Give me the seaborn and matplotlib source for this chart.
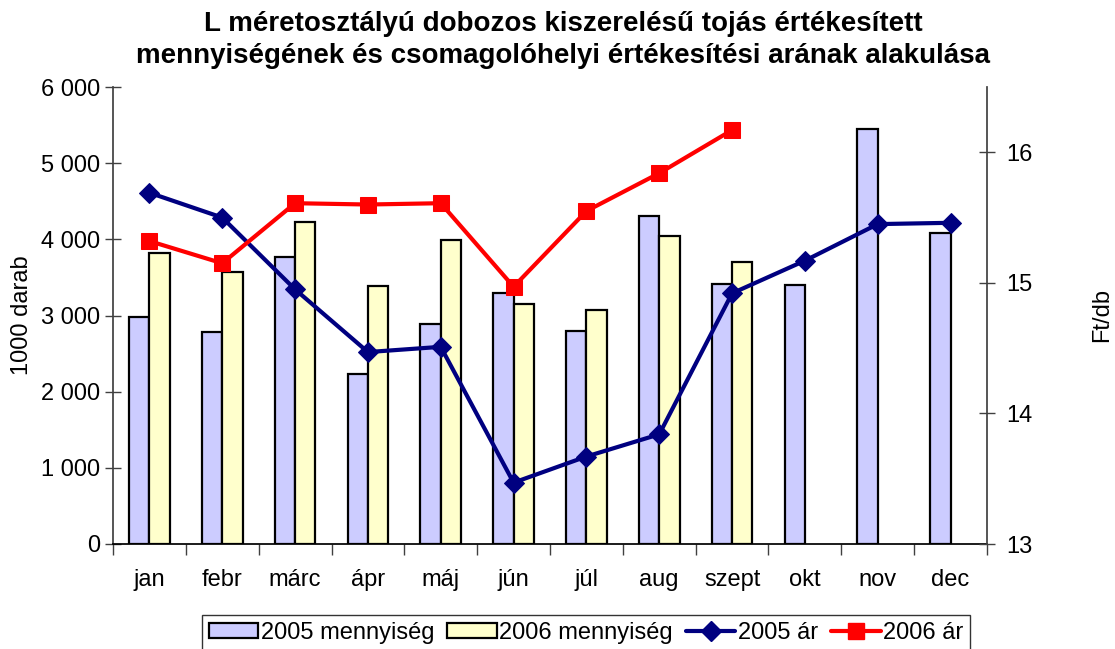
import numpy as np
import pandas as pd
import matplotlib
matplotlib.use("Agg")
import matplotlib.pyplot as plt
import seaborn as sns
from matplotlib.patches import Patch
from matplotlib.lines import Line2D
from matplotlib.ticker import FuncFormatter

months = ["jan", "febr", "márc", "ápr", "máj", "jún", "júl", "aug", "szept", "okt", "nov", "dec"]
qty_2005 = [2975, 2780, 3763, 2229, 2886, 3294, 2790, 4310, 3412, 3403, 5453, 4078]
qty_2006 = [3815, 3570, 4227, 3381, 3990, 3145, 3071, 4039, 3701, np.nan, np.nan, np.nan]
price_2005 = [15.69, 15.50, 14.95, 14.47, 14.51, 13.47, 13.67, 13.84, 14.92, 15.17, 15.45, 15.46]
price_2006 = [15.32, 15.15, 15.61, 15.60, 15.61, 14.97, 15.55, 15.84, 16.17, np.nan, np.nan, np.nan]

lbl_q05 = "2005 mennyiség"
lbl_q06 = "2006 mennyiség"
lbl_p05 = "2005 ár"
lbl_p06 = "2006 ár"

sns.set_theme(style="white")
plt.rcParams['font.family'] = ['Liberation Sans', 'DejaVu Sans']
plt.rcParams['text.color'] = 'black'
plt.rcParams['axes.labelcolor'] = 'black'
plt.rcParams['xtick.color'] = 'black'
plt.rcParams['ytick.color'] = 'black'

df = pd.DataFrame({
    "hónap": months * 2,
    "érték": qty_2005 + qty_2006,
    "sorozat": [lbl_q05] * 12 + [lbl_q06] * 12,
})

FS = 17

fig = plt.figure(figsize=(11.15, 6.49), dpi=100)
ax = fig.add_axes([113 / 1115, 105 / 649, (987 - 113) / 1115, (544 - 87) / 649])

c05 = "#CCCCFF"
c06 = "#FFFFCC"
sns.barplot(data=df, x="hónap", y="érték", hue="sorozat", order=months,
            hue_order=[lbl_q05, lbl_q06], palette=[c05, c06],
            width=0.56, edgecolor="black", linewidth=1.6, ax=ax, legend=False,
            saturation=1)

ax.set_ylim(0, 6000)
ax.set_xlim(-0.5, 11.5)
ax.set_yticks(np.arange(0, 6001, 1000))
ax.yaxis.set_major_formatter(FuncFormatter(lambda v, p: f"{int(v):,}".replace(",", " ")))
ax.set_xlabel("")
ax.set_ylabel("1000 darab", fontsize=FS, labelpad=6)
ax.tick_params(axis="y", labelsize=FS, direction="inout", length=12, width=1, color="#404040",
               labelcolor="black", left=True, pad=3)
ax.set_xticks(range(12))
ax.set_xticklabels(months)
ax.tick_params(axis="x", which="major", labelsize=FS, length=0, pad=18, labelcolor="black")
ax.set_xticks(np.arange(-0.5, 12, 1), minor=True)
ax.tick_params(axis="x", which="minor", direction="out", length=8, width=1, color="#404040", bottom=True)
ax.spines["top"].set_visible(False)
ax.spines["left"].set_color("#404040")
ax.spines["bottom"].set_color("black")
ax.spines["right"].set_visible(False)

ax2 = ax.twinx()
x_idx = np.arange(12)
sns.lineplot(x=x_idx, y=price_2005, ax=ax2, color="#000080", linewidth=3,
             marker="D", markersize=10, markeredgecolor="#000080", sort=False)
sns.lineplot(x=x_idx, y=price_2006, ax=ax2, color="#FF0000", linewidth=3,
             marker="s", markersize=12, markeredgecolor="#FF0000", sort=False)
ax2.set_ylim(13, 16.5)
ax2.set_yticks([13, 14, 15, 16])
ax2.set_xlim(-0.5, 11.5)
ax2.set_ylabel("Ft/db", fontsize=FS, labelpad=42)
ax2.tick_params(axis="y", labelsize=FS, direction="inout", length=12, width=1, color="#404040",
                labelcolor="black", right=True, pad=8)
ax2.spines["top"].set_visible(False)
ax2.spines["left"].set_visible(False)
ax2.spines["bottom"].set_visible(False)
ax2.spines["right"].set_color("#404040")

fig.text(0.505, 1 - 40 / 649,
         "L méretosztályú dobozos kiszerelésű tojás értékesített\n"
         "mennyiségének és csomagolóhelyi értékesítési arának alakulása",
         fontsize=20, fontweight="bold", ha="center", va="center", linespacing=1.3, color="black")

handles = [
    Patch(facecolor=c05, edgecolor="black", linewidth=1.6, label=lbl_q05),
    Patch(facecolor=c06, edgecolor="black", linewidth=1.6, label=lbl_q06),
    Line2D([0], [0], color="#000080", lw=3, marker="D", markersize=10, label=lbl_p05),
    Line2D([0], [0], color="#FF0000", lw=3, marker="s", markersize=12, label=lbl_p06),
]
leg = fig.legend(handles=handles, loc="upper center", bbox_to_anchor=(586 / 1115, 1 - 615 / 649),
                 ncol=4, fontsize=FS, frameon=True, fancybox=False, handlelength=2.1,
                 handleheight=0.6, handletextpad=0.1, columnspacing=0.55, borderpad=0.3,
                 borderaxespad=0)
leg.get_frame().set_edgecolor("black")
leg.get_frame().set_linewidth(1)

fig.savefig("out.png", dpi=100)
